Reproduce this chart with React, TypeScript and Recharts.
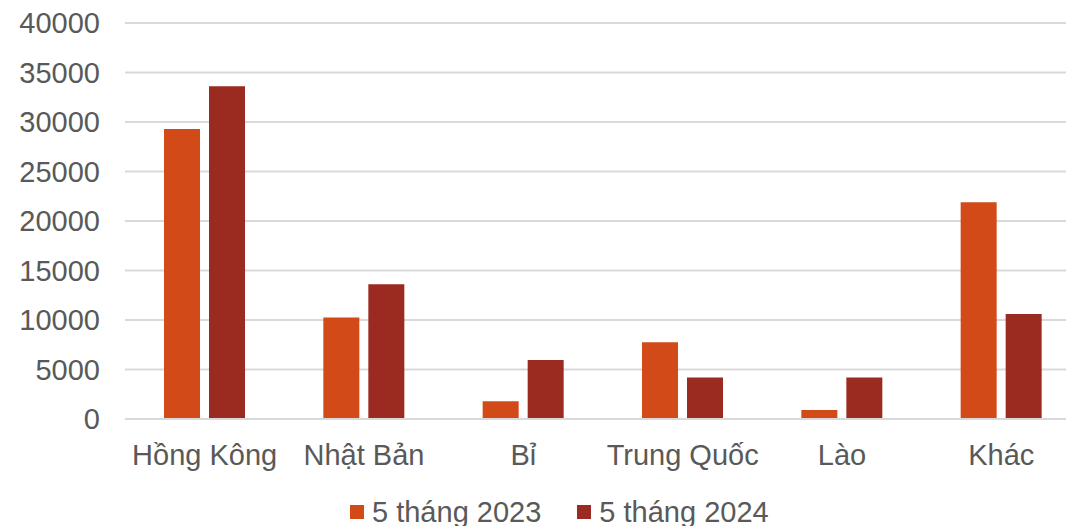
import { BarChart, Bar, XAxis, YAxis, CartesianGrid } from 'recharts';

const categories = ['Hồng Kông', 'Nhật Bản', 'Bỉ', 'Trung Quốc', 'Lào', 'Khác'];
const may2023 = [29300, 10250, 1800, 7750, 900, 21900];
const may2024 = [33600, 13600, 5950, 4200, 4200, 10600];
const yTicks = [0, 5000, 10000, 15000, 20000, 25000, 30000, 35000, 40000];

const series = [
  { key: 'y2023', name: '5 tháng 2023', color: '#D24A17' },
  { key: 'y2024', name: '5 tháng 2024', color: '#9B2B20' },
];

const data = categories.map((name, i) => ({
  name,
  y2023: may2023[i],
  y2024: may2024[i],
}));

const font = '"Liberation Sans", Arial, sans-serif';
const textColor = '#595959';

export default function App() {
  return (
    <div style={{ position: 'absolute', left: 0, top: 0, width: 1066, height: 526, overflow: 'hidden', background: '#fff', fontFamily: font }}>
      <BarChart
        width={1081}
        height={526}
        data={data}
        margin={{ top: 23, right: 0, left: 0, bottom: 57 }}
        barSize={36}
        barGap={9}
      >
        <CartesianGrid vertical={false} stroke="#D9D9D9" strokeWidth={2} />
        <XAxis
          dataKey="name"
          height={50}
          axisLine={{ stroke: '#D9D9D9', strokeWidth: 2 }}
          tickLine={false}
          tickSize={0}
          tickMargin={25}
          tick={{ fill: textColor, fontSize: 29, fontFamily: font }}
          interval={0}
        />
        <YAxis
          width={125}
          domain={[0, 40000]}
          ticks={yTicks}
          axisLine={false}
          tickLine={false}
          tickSize={0}
          tickMargin={25}
          tick={{ fill: textColor, fontSize: 29, fontFamily: font }}
        />
        {series.map(s => (
          <Bar key={s.key} dataKey={s.key} name={s.name} fill={s.color} isAnimationActive={false} />
        ))}
      </BarChart>
      <div style={{ position: 'absolute', left: 350, top: 496, display: 'flex', alignItems: 'center', color: textColor, fontSize: 29, lineHeight: '32px' }}>
        {series.map((s, i) => (
          <div key={s.key} style={{ display: 'flex', alignItems: 'center', marginRight: i === 0 ? 36 : 0 }}>
            <span style={{ display: 'inline-block', width: 14, height: 14, background: s.color, marginRight: 8 }} />
            <span>{s.name}</span>
          </div>
        ))}
      </div>
    </div>
  );
}
